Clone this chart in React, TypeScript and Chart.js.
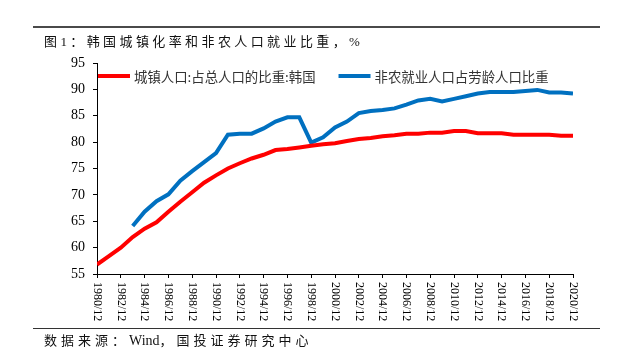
import React, { useEffect, useRef } from "react";
import { Chart, registerables } from "chart.js";

Chart.register(...registerables);

const years = [
  1980, 1981, 1982, 1983, 1984, 1985, 1986, 1987, 1988, 1989,
  1990, 1991, 1992, 1993, 1994, 1995, 1996, 1997, 1998, 1999,
  2000, 2001, 2002, 2003, 2004, 2005, 2006, 2007, 2008, 2009,
  2010, 2011, 2012, 2013, 2014, 2015, 2016, 2017, 2018, 2019, 2020,
];

const urbanRate = [
  56.8, 58.4, 60.0, 62.0, 63.6, 64.8, 66.8, 68.7, 70.5, 72.3,
  73.7, 75.0, 76.0, 76.9, 77.6, 78.5, 78.7, 79.0, 79.3, 79.6,
  79.8, 80.2, 80.6, 80.8, 81.1, 81.3, 81.6, 81.6, 81.8, 81.8,
  82.1, 82.1, 81.7, 81.7, 81.7, 81.4, 81.4, 81.4, 81.4, 81.2, 81.2,
];

const nonFarmRate: (number | null)[] = [
  null, null, null, 64.1, 66.8, 68.8, 70.1, 72.7, 74.5, 76.2,
  77.9, 81.4, 81.6, 81.6, 82.6, 83.9, 84.7, 84.7, 79.9, 80.9,
  82.8, 83.9, 85.5, 85.9, 86.1, 86.4, 87.1, 87.9, 88.2, 87.7,
  88.2, 88.7, 89.2, 89.5, 89.5, 89.5, 89.7, 89.9, 89.4, 89.4, 89.2,
];

const xTickLabels = [
  "1980/12", "1982/12", "1984/12", "1986/12", "1988/12", "1990/12", "1992/12",
  "1994/12", "1996/12", "1998/12", "2000/12", "2002/12", "2004/12", "2006/12",
  "2008/12", "2010/12", "2012/12", "2014/12", "2016/12", "2018/12", "2020/12",
];

const seriesNames = ["城镇人口:占总人口的比重:韩国", "非农就业人口占劳龄人口比重"];
const seriesColors = ["#FF0000", "#0070C0"];

const titleText = "图1：韩国城镇化率和非农人口就业比重，%";

const xLabelPlugin = {
  id: "xLabelsRotated",
  afterDraw(chart: any) {
    const ctx = chart.ctx;
    const xs = chart.scales.x;
    ctx.save();
    ctx.font = '12px "Liberation Serif", serif';
    ctx.fillStyle = "#000";
    ctx.textAlign = "left";
    ctx.textBaseline = "middle";
    xs.ticks.forEach((t: any, i: number) => {
      const x = xs.getPixelForValue(t.value);
      ctx.save();
      ctx.translate(x, xs.top + 8);
      ctx.rotate(Math.PI / 2);
      ctx.fillText(xTickLabels[i] ?? "", 0, 0);
      ctx.restore();
    });
    ctx.restore();
  },
};

const legendPlugin = {
  id: "insideLegend",
  afterDraw(chart: any) {
    const ctx = chart.ctx;
    const { left, top } = chart.chartArea;
    const y = top + 13;
    let x = left + 1;
    ctx.save();
    ctx.font = '13.4px "Noto Sans CJK SC", sans-serif';
    ctx.textBaseline = "middle";
    ctx.textAlign = "left";
    chart.data.datasets.forEach((ds: any) => {
      ctx.strokeStyle = ds.borderColor;
      ctx.lineWidth = 4;
      ctx.lineCap = "butt";
      ctx.beginPath();
      ctx.moveTo(x, y);
      ctx.lineTo(x + 32, y);
      ctx.stroke();
      x += 36;
      ctx.fillStyle = "#333";
      ctx.fillText(ds.label, x, y + 1);
      x += ctx.measureText(ds.label).width + 23;
    });
    ctx.restore();
  },
};

export default function App() {
  const canvasRef = useRef<HTMLCanvasElement | null>(null);

  useEffect(() => {
    if (!canvasRef.current) return;
    const chart = new Chart(canvasRef.current, {
      type: "line",
      data: {
        datasets: [
          {
            label: seriesNames[0],
            data: years.map((y, i) => ({ x: y, y: urbanRate[i] })),
            borderColor: seriesColors[0],
            backgroundColor: seriesColors[0],
            borderWidth: 4,
            pointRadius: 0,
            tension: 0,
          },
          {
            label: seriesNames[1],
            data: years.map((y, i) => ({ x: y, y: nonFarmRate[i] })),
            borderColor: seriesColors[1],
            backgroundColor: seriesColors[1],
            borderWidth: 4,
            pointRadius: 0,
            tension: 0,
            spanGaps: false,
          },
        ],
      },
      options: {
        animation: false,
        responsive: true,
        maintainAspectRatio: false,
        layout: { padding: { top: 63, right: 47, left: 0, bottom: 0 } },
        plugins: {
          legend: { display: false },
          tooltip: { enabled: false },
        },
        scales: {
          x: {
            type: "linear",
            min: 1980,
            max: 2020,
            ticks: { display: false, stepSize: 2 },
            grid: {
              drawOnChartArea: false,
              drawTicks: true,
              tickLength: 4,
              color: "#000",
            },
            border: { display: true, color: "#000", width: 1 },
            afterFit: (s: any) => {
              s.height = 84;
            },
          },
          y: {
            min: 55,
            max: 95,
            ticks: {
              stepSize: 5,
              color: "#000",
              padding: 8,
              font: { family: '"Liberation Serif", serif', size: 14 },
            },
            grid: {
              drawOnChartArea: false,
              drawTicks: true,
              tickLength: 4,
              color: "#000",
            },
            border: { display: true, color: "#000", width: 1 },
            afterFit: (s: any) => {
              s.width = 97;
            },
          },
        },
      },
      plugins: [xLabelPlugin, legendPlugin],
    } as any);
    return () => chart.destroy();
  }, []);

  return (
    <div
      style={{
        position: "absolute",
        left: 0,
        top: 0,
        width: 620,
        height: 358,
        background: "#fff",
        overflow: "hidden",
      }}
    >
      <div
        style={{
          position: "absolute",
          left: 33,
          top: 26,
          width: 567,
          height: 2,
          background: "#4a4a4a",
        }}
      />
      <div
        style={{
          position: "absolute",
          left: 44,
          top: 32,
          fontFamily: '"Liberation Serif", "Noto Sans CJK SC", serif',
          fontSize: 13,
          letterSpacing: "3.4px",
          lineHeight: "20px",
          color: "#111",
          whiteSpace: "nowrap",
          zIndex: 2,
        }}
      >
        {titleText}
      </div>
      <div style={{ position: "absolute", left: 0, top: 0, width: 620, height: 358 }}>
        <canvas ref={canvasRef} />
      </div>
      <div
        style={{
          position: "absolute",
          left: 33,
          top: 328,
          width: 567,
          height: 1,
          background: "#333",
        }}
      />
      <div
        style={{
          position: "absolute",
          left: 44,
          top: 332,
          fontFamily: '"Liberation Serif", "Noto Sans CJK SC", serif',
          fontSize: 13,
          letterSpacing: "4px",
          lineHeight: "18px",
          color: "#111",
          whiteSpace: "nowrap",
        }}
      >
        数据来源：<span style={{ letterSpacing: "0px", fontSize: 14 }}>Wind</span>，国投证券研究中心
      </div>
    </div>
  );
}
